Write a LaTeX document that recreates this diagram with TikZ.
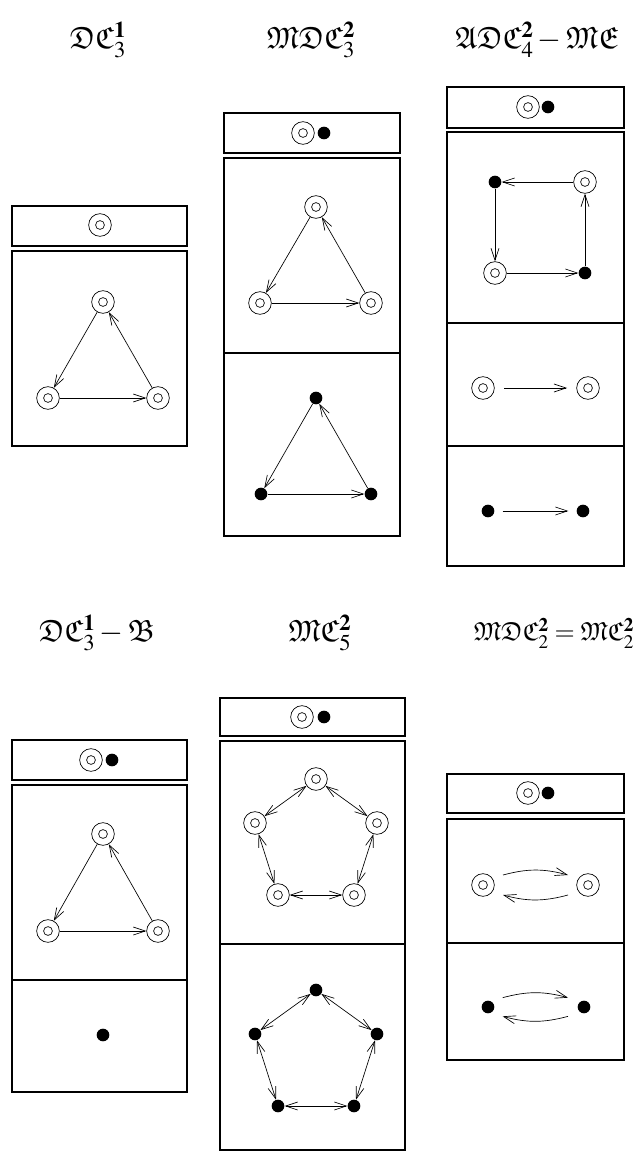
\documentclass[tikz,border=0pt]{standalone}
\usepackage{amsmath,amssymb}
\usepackage{mathptmx}
\usepackage{tikz}
\usetikzlibrary{arrows.meta}

\begin{document}
\begin{tikzpicture}[
    x=0.75pt, y=-0.75pt,
    box/.style={line width=1.2pt},
    dbl/.style={circle, draw, line width=0.5pt, minimum size=17pt, inner sep=0pt,
        path picture={\draw[line width=0.5pt] (path picture bounding box.center) circle (3.3pt);}},
    blob/.style={circle, fill, minimum size=9.5pt, inner sep=0pt},
    arr/.style={line width=0.5pt, -{Straight Barb[length=9pt,width=6pt]}},
    darr/.style={line width=0.5pt, {Straight Barb[length=9pt,width=6pt]}-{Straight Barb[length=9pt,width=6pt]}},
    title/.style={font=\fontsize{23}{27}\selectfont}
]
    \useasboundingbox (0,0) rectangle (640,1151);

    % Titles
    \node[title] (t1) at (98,40) {$\mathfrak{D}\mathfrak{C}^{\mathbf{1}}_{3}$};
    \node[title] (t2) at (311,40) {$\mathfrak{M}\mathfrak{D}\mathfrak{C}^{\mathbf{2}}_{3}$};
    \node[title] (t3) at (537,40) {$\mathfrak{A}\mathfrak{D}\mathfrak{C}^{\mathbf{2}}_{4}-\mathfrak{M}\mathfrak{E}$};
    \node[title] (t4) at (97,633) {$\mathfrak{D}\mathfrak{C}^{\mathbf{1}}_{3}-\mathfrak{B}$};
    \node[title] (t5) at (320,633) {$\mathfrak{M}\mathfrak{C}^{\mathbf{2}}_{5}$};
    \node[title, font=\fontsize{19.5}{24}\selectfont] (t6) at (554,633)
        {$\mathfrak{M}\mathfrak{D}\mathfrak{C}^{\mathbf{2}}_{2}=\mathfrak{M}\mathfrak{C}^{\mathbf{2}}_{2}$};

    % Boxes
    \draw[box] (12,206) rectangle (187,246);
    \draw[box] (12,251) rectangle (187,446);
    \draw[box] (224,113) rectangle (400,153);
    \draw[box] (224,158) rectangle (400,353) (224,353) rectangle (400,536);
    \draw[box] (447,87) rectangle (624,128);
    \draw[box] (447,132) rectangle (624,323) (447,323) rectangle (624,446) (447,446) rectangle (624,566);
    \draw[box] (12,740) rectangle (187,780);
    \draw[box] (12,785) rectangle (187,980) (12,980) rectangle (187,1092);
    \draw[box] (220,698) rectangle (405,736);
    \draw[box] (220,741) rectangle (405,944) (220,944) rectangle (405,1150);
    \draw[box] (447,774) rectangle (624,813);
    \draw[box] (447,819) rectangle (624,943) (447,943) rectangle (624,1060);

    % Headers
    \node[dbl] (h1) at (100,225) {};
    \node[dbl] (h2a) at (303,133) {};
    \node[blob] (h2b) at (324,133) {};
    \node[dbl] (h3a) at (528,107) {};
    \node[blob] (h3b) at (548,107) {};
    \node[dbl] (h4a) at (91,760) {};
    \node[blob] (h4b) at (112,760) {};
    \node[dbl] (h5a) at (302,717) {};
    \node[blob] (h5b) at (324,717) {};
    \node[dbl] (h6a) at (528,793) {};
    \node[blob] (h6b) at (548,793) {};

    % Directed triangle
    \node[dbl] (a1) at (103,302) {};
    \node[dbl] (a2) at (48,398) {};
    \node[dbl] (a3) at (158,398) {};
    \draw[arr] (a1) -- (a2);
    \draw[arr] (a2) -- (a3);
    \draw[arr] (a3) -- (a1);

    % Mixed directed triangle
    \node[dbl] (b1) at (316,207) {};
    \node[dbl] (b2) at (260,303) {};
    \node[dbl] (b3) at (371,303) {};
    \draw[arr] (b1) -- (b2);
    \draw[arr] (b2) -- (b3);
    \draw[arr] (b3) -- (b1);
    \node[blob] (c1) at (316,398) {};
    \node[blob] (c2) at (261,494) {};
    \node[blob] (c3) at (371,494) {};
    \draw[arr] (c1) -- (c2);
    \draw[arr] (c2) -- (c3);
    \draw[arr] (c3) -- (c1);

    % Alternating square
    \node[blob] (d1) at (495,182) {};
    \node[dbl] (d2) at (585,182) {};
    \node[dbl] (d3) at (495,273) {};
    \node[blob] (d4) at (585,273) {};
    \draw[arr] (d2) -- (d1);
    \draw[arr] (d1) -- (d3);
    \draw[arr] (d3) -- (d4);
    \draw[arr] (d4) -- (d2);
    \node[dbl] (e1) at (483,388) {};
    \node[dbl] (e2) at (588,388) {};
    \draw[arr, shorten <=7pt, shorten >=7pt] (e1) -- (e2);
    \node[blob] (f1) at (488,511) {};
    \node[blob] (f2) at (583,511) {};
    \draw[arr, shorten <=6pt, shorten >=6pt] (f1) -- (f2);

    % Triangle with single vertex
    \node[dbl] (g1) at (103,834) {};
    \node[dbl] (g2) at (48,931) {};
    \node[dbl] (g3) at (158,931) {};
    \draw[arr] (g1) -- (g2);
    \draw[arr] (g2) -- (g3);
    \draw[arr] (g3) -- (g1);
    \node[blob] (g4) at (103,1035) {};

    % Mixed pentagon
    \node[dbl] (p1) at (316,779) {};
    \node[dbl] (p2) at (377,823) {};
    \node[dbl] (p3) at (354,895) {};
    \node[dbl] (p4) at (278,895) {};
    \node[dbl] (p5) at (255,823) {};
    \draw[darr] (p1) -- (p2);
    \draw[darr] (p2) -- (p3);
    \draw[darr] (p3) -- (p4);
    \draw[darr] (p4) -- (p5);
    \draw[darr] (p5) -- (p1);
    \node[blob] (q1) at (316,990) {};
    \node[blob] (q2) at (377,1034) {};
    \node[blob] (q3) at (354,1106) {};
    \node[blob] (q4) at (278,1106) {};
    \node[blob] (q5) at (255,1034) {};
    \draw[darr] (q1) -- (q2);
    \draw[darr] (q2) -- (q3);
    \draw[darr] (q3) -- (q4);
    \draw[darr] (q4) -- (q5);
    \draw[darr] (q5) -- (q1);

    % Two-cycles
    \node[dbl] (r1) at (483,885) {};
    \node[dbl] (r2) at (588,885) {};
    \draw[arr] ([xshift=15pt,yshift=7.5pt]r1.center) to[bend left=15] ([xshift=-15pt,yshift=7.5pt]r2.center);
    \draw[arr] ([xshift=-15pt,yshift=-7.5pt]r2.center) to[bend left=15] ([xshift=15pt,yshift=-7.5pt]r1.center);
    \node[blob] (s1) at (488,1007) {};
    \node[blob] (s2) at (584,1007) {};
    \draw[arr] ([xshift=11pt,yshift=7pt]s1.center) to[bend left=15] ([xshift=-12pt,yshift=7pt]s2.center);
    \draw[arr] ([xshift=-12pt,yshift=-7pt]s2.center) to[bend left=15] ([xshift=11pt,yshift=-7pt]s1.center);
\end{tikzpicture}
\end{document}
